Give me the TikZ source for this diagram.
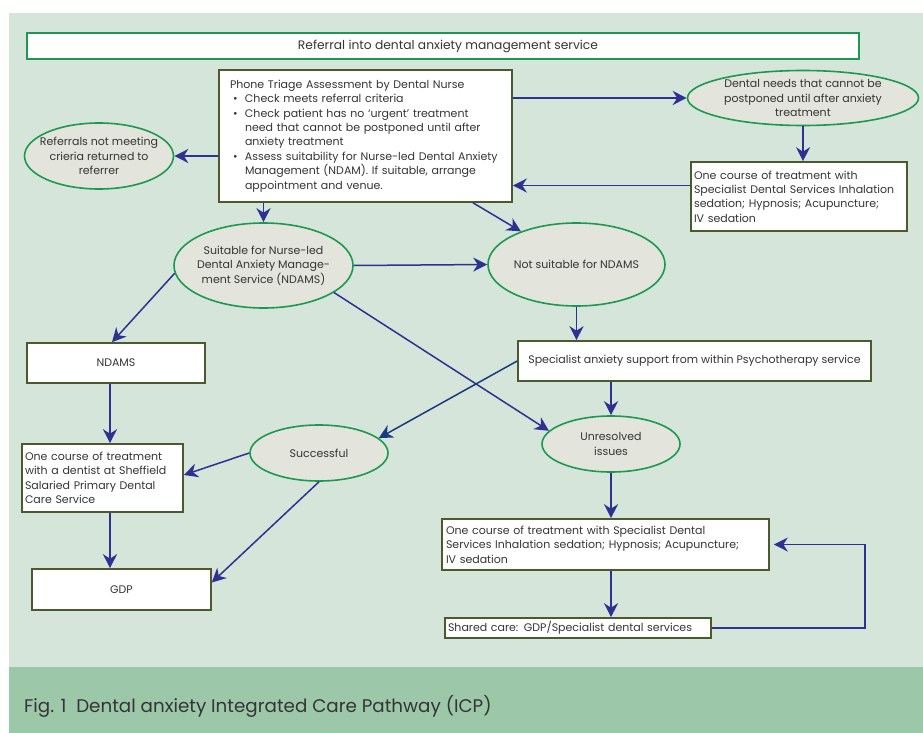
\documentclass[tikz,border=0pt]{standalone}
\usepackage{fontspec}
\setmainfont{Poppins}
\usetikzlibrary{shapes.geometric,arrows.meta}
\definecolor{panel}{HTML}{D5E5DA}
\definecolor{band}{HTML}{9CC7A9}
\definecolor{ellfill}{HTML}{E3E5DC}
\definecolor{ellline}{HTML}{1B9A4F}
\definecolor{boxline}{HTML}{4B5A2E}
\definecolor{arr}{HTML}{2E3192}
\definecolor{arrnavy}{HTML}{1A3A80}
\definecolor{txt}{HTML}{353535}
\begin{document}
\begin{tikzpicture}[x=1pt,y=-1pt,
  every node/.style={font=\fontsize{11}{14.4}\selectfont, text=txt},
  ell/.style={ellipse, draw=ellline, fill=ellfill, line width=1.6pt, inner xsep=-30pt, inner ysep=-20pt, align=center},
  bx/.style={rectangle, draw=boxline, fill=white, line width=1.6pt, inner ysep=0pt},
  arw/.style={draw=arr, line width=1.5pt, -{Stealth[length=14pt,width=14pt,inset=4.5pt]}},
]
\useasboundingbox (0,0) rectangle (923,733);
\fill[white] (0,0) rectangle (923,733);
\fill[panel] (9,13) rectangle (923,667);
\fill[band] (9,667) rectangle (923,733);

% nodes
\node[rectangle, draw=ellline, fill=white, line width=1.6pt, minimum width=832pt, minimum height=26pt, inner sep=0pt, font=\fontsize{12.3}{14.4}\selectfont] (top) at (443,46) {\hspace*{10pt}Referral into dental anxiety management service};

\node[bx, minimum width=293pt, minimum height=132pt, text width=271pt, inner xsep=11pt, align=left] (triage) at (365.5,136)
{Phone Triage Assessment by Dental Nurse\\
\makebox[15pt][l]{\hspace{3pt}\textbullet}Check meets referral criteria\\
\makebox[15pt][l]{\hspace{3pt}\textbullet}Check patient has no ‘urgent’ treatment\\
\hspace*{15pt}need that cannot be postponed until after\\
\hspace*{15pt}anxiety treatment\\
\makebox[15pt][l]{\hspace{3pt}\textbullet}Assess suitability for Nurse-led Dental Anxiety\\
\hspace*{15pt}Management (NDAM). If suitable, arrange\\
\hspace*{15pt}appointment and venue.};

\node[ell, minimum width=149pt, minimum height=66pt] (refer) at (99,156) {Referrals not meeting\\crieria returned to\\referrer};

\node[ell, minimum width=231pt, minimum height=55pt] (needs) at (803,98) {Dental needs that cannot be\\postponed until after anxiety\\treatment};

\node[bx, minimum width=216pt, minimum height=69pt, text width=210pt, inner xsep=3pt, align=left] (dentbox) at (799,196.5)
{One course of treatment with\\Specialist Dental Services Inhalation\\sedation; Hypnosis; Acupuncture;\\IV sedation};

\node[ell, minimum width=179pt, minimum height=85pt] (suitable) at (263.5,265.5) {Suitable for Nurse-led\\Dental Anxiety Manage-\\ment Service (NDAMS)};

\node[ell, minimum width=177pt, minimum height=83pt] (notsuit) at (576.5,264.5) {Not suitable for NDAMS};

\node[bx, minimum width=178pt, minimum height=40pt] (ndams) at (116,363) {NDAMS};

\node[bx, minimum width=353pt, minimum height=40pt] (spec) at (694.5,361) {Specialist anxiety support from within Psychotherapy service};

\node[ell, minimum width=138pt, minimum height=56pt] (succ) at (319,453) {Successful};

\node[ell, minimum width=138pt, minimum height=56pt] (unres) at (611,444) {Unresolved\\issues};

\node[bx, minimum width=161pt, minimum height=68pt, text width=155pt, inner xsep=3pt, align=left] (sheff) at (102.5,478)
{One course of treatment\\with a dentist at Sheffield\\Salaried Primary Dental\\Care Service};

\node[bx, minimum width=179pt, minimum height=41pt] (gdp) at (121.5,589.5) {GDP};

\node[bx, minimum width=327pt, minimum height=51pt, text width=319pt, inner xsep=4pt, align=left] (spbox) at (605.5,544.5)
{One course of treatment with Specialist Dental\\Services Inhalation sedation; Hypnosis; Acupuncture;\\IV sedation};

\node[bx, minimum width=266pt, minimum height=20pt, text width=260pt, inner xsep=3pt, align=left] (shared) at (578,628)
{Shared care: GDP/Specialist dental services};

\node[anchor=base west, font=\fontsize{18.3}{22}\selectfont, inner sep=0pt] (cap) at (24,712) {Fig. 1\ \ Dental anxiety Integrated Care Pathway (ICP)};

% connectors
\draw[arw] (triage.west |- refer.east) -- (refer.east);
\draw[arw] (triage.east |- needs.west) -- (needs.west);
\draw[arw] (needs.south) -- (needs.south |- dentbox.north);
\draw[arw] ([yshift=11pt]dentbox.west) -- ([yshift=11pt]dentbox.west -| triage.east);
\draw[arw] (triage.south -| suitable.north) -- (suitable.north);
\draw[arw] ([xshift=107.5pt]triage.south) -- (notsuit);
\draw[arw] (suitable.east) -- (notsuit.west);
\draw[arw] (suitable.185) -- ([xshift=-4pt]ndams.north);
\draw[arw] ([xshift=-6pt]ndams.south) -- ([xshift=-6pt]ndams.south |- sheff.north);
\draw[arw] ([xshift=7.5pt]sheff.south) -- ([xshift=7.5pt]sheff.south |- gdp.north);
\draw[arw] (succ.west) -- ([yshift=3pt]sheff.east);
\draw[arw] (succ.south) -- ([yshift=7pt]gdp.east);
\draw[arw] (notsuit.south) -- (notsuit.south |- spec.north);
\draw[arw] (spec.south -| unres.north) -- (unres.north);
\draw[arw] (suitable.-21) -- (unres.168);
\draw[arw, draw=arrnavy] (spec.west) -- (succ.14);
\draw[arw] (unres.south) -- (unres.south |- spbox.north);
\draw[arw] (spbox.south -| unres.south) -- (unres.south |- shared.north);
\draw[arw] (shared.east) -- ++(153,0) |- ([xshift=4pt]spbox.east);
\end{tikzpicture}
\end{document}
